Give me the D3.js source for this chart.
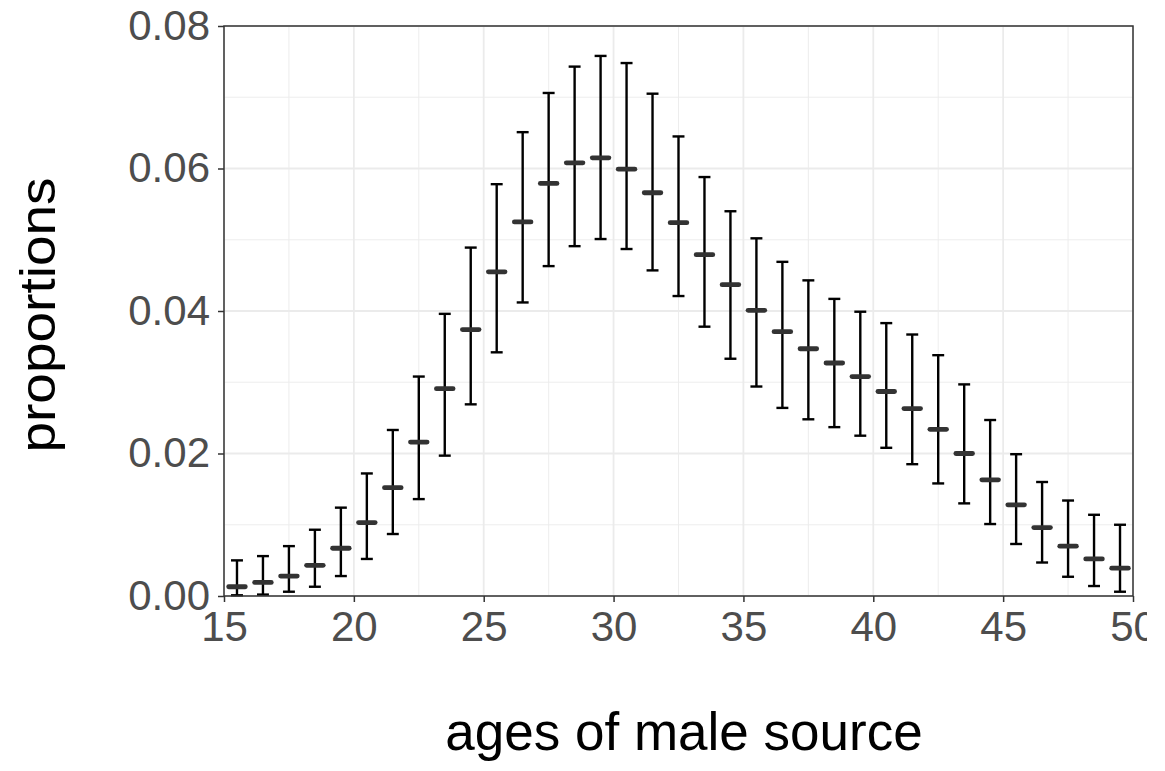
<!DOCTYPE html>
<html>
<head>
<meta charset="utf-8">
<script src="https://cdn.jsdelivr.net/npm/d3@7"></script>
<style>
  body { margin: 0; background: #fff; }
  svg { display: block; font-family: "Liberation Sans", Arial, sans-serif; }
</style>
</head>
<body>
<svg></svg>
<script>
// ages (bin centres) and estimated proportions with their intervals
const ages = [15.5, 16.5, 17.5, 18.5, 19.5, 20.5, 21.5, 22.5, 23.5, 24.5,
  25.5, 26.5, 27.5, 28.5, 29.5, 30.5, 31.5, 32.5, 33.5, 34.5,
  35.5, 36.5, 37.5, 38.5, 39.5, 40.5, 41.5, 42.5, 43.5, 44.5,
  45.5, 46.5, 47.5, 48.5, 49.5];
const means = [0.0013, 0.0019, 0.0028, 0.0043, 0.0067, 0.0103, 0.0152, 0.0216, 0.0291, 0.0374,
  0.0455, 0.0525, 0.0579, 0.0608, 0.0615, 0.0599, 0.0566, 0.0524, 0.0479, 0.0437,
  0.0401, 0.0371, 0.0347, 0.0327, 0.0308, 0.0287, 0.0263, 0.0234, 0.0200, 0.0163,
  0.0128, 0.0096, 0.0070, 0.0052, 0.0039];
const lower = [0.0001, 0.0002, 0.0006, 0.0013, 0.0028, 0.0052, 0.0087, 0.0136, 0.0197, 0.0269,
  0.0342, 0.0412, 0.0463, 0.0491, 0.0501, 0.0487, 0.0457, 0.0421, 0.0378, 0.0333,
  0.0294, 0.0264, 0.0248, 0.0237, 0.0225, 0.0208, 0.0185, 0.0158, 0.0130, 0.0101,
  0.0073, 0.0047, 0.0027, 0.0014, 0.0006];
const upper = [0.0050, 0.0056, 0.0070, 0.0093, 0.0124, 0.0172, 0.0233, 0.0308, 0.0396, 0.0489,
  0.0578, 0.0651, 0.0706, 0.0743, 0.0758, 0.0748, 0.0705, 0.0645, 0.0588, 0.0540,
  0.0502, 0.0469, 0.0443, 0.0417, 0.0399, 0.0383, 0.0367, 0.0338, 0.0297, 0.0247,
  0.0199, 0.0160, 0.0134, 0.0114, 0.0100];

const xTicks = [15, 20, 25, 30, 35, 40, 45, 50];
const xMinor = [17.5, 22.5, 27.5, 32.5, 37.5, 42.5, 47.5];
const yTicks = [0, 0.02, 0.04, 0.06, 0.08];
const yMinor = [0.01, 0.03, 0.05, 0.07];

const width = 1165, height = 771;
const margin = { top: 26, right: 32, bottom: 175, left: 224 };
const innerW = width - margin.left - margin.right;
const innerH = height - margin.top - margin.bottom;

const svg = d3.select("svg")
  .attr("width", width)
  .attr("height", height);

const x = d3.scaleLinear().domain([15, 50]).range([margin.left, margin.left + innerW]);
const y = d3.scaleLinear().domain([0, 0.08]).range([margin.top + innerH, margin.top]);

const data = ages.map((a, i) => ({ age: a, mean: means[i], lo: lower[i], hi: upper[i] }));

// grid lines
const grid = svg.append("g");
grid.selectAll(".xminor").data(xMinor).join("line")
  .attr("x1", d => x(d)).attr("x2", d => x(d))
  .attr("y1", y(0)).attr("y2", y(0.08))
  .attr("stroke", "#EBEBEB").attr("stroke-width", 0.9);
grid.selectAll(".yminor").data(yMinor).join("line")
  .attr("x1", x(15)).attr("x2", x(50))
  .attr("y1", d => y(d)).attr("y2", d => y(d))
  .attr("stroke", "#EBEBEB").attr("stroke-width", 0.9);
grid.selectAll(".xmajor").data(xTicks).join("line")
  .attr("x1", d => x(d)).attr("x2", d => x(d))
  .attr("y1", y(0)).attr("y2", y(0.08))
  .attr("stroke", "#EBEBEB").attr("stroke-width", 1.8);
grid.selectAll(".ymajor").data(yTicks).join("line")
  .attr("x1", x(15)).attr("x2", x(50))
  .attr("y1", d => y(d)).attr("y2", d => y(d))
  .attr("stroke", "#EBEBEB").attr("stroke-width", 1.8);

// error bars
const capHalf = 0.23;
const bars = svg.append("g").attr("stroke", "#000").attr("stroke-width", 2.4);
bars.selectAll(".v").data(data).join("line")
  .attr("x1", d => x(d.age)).attr("x2", d => x(d.age))
  .attr("y1", d => y(d.lo)).attr("y2", d => y(d.hi));
bars.selectAll(".top").data(data).join("line")
  .attr("x1", d => x(d.age - capHalf)).attr("x2", d => x(d.age + capHalf))
  .attr("y1", d => y(d.hi)).attr("y2", d => y(d.hi));
bars.selectAll(".bot").data(data).join("line")
  .attr("x1", d => x(d.age - capHalf)).attr("x2", d => x(d.age + capHalf))
  .attr("y1", d => y(d.lo)).attr("y2", d => y(d.lo));

// point estimates
svg.append("g").selectAll("line").data(data).join("line")
  .attr("x1", d => x(d.age - 0.32)).attr("x2", d => x(d.age + 0.32))
  .attr("y1", d => y(d.mean)).attr("y2", d => y(d.mean))
  .attr("stroke", "#333333").attr("stroke-width", 4.8)
  .attr("stroke-linecap", "round");

// panel border
svg.append("rect")
  .attr("x", x(15)).attr("y", y(0.08))
  .attr("width", x(50) - x(15)).attr("height", y(0) - y(0.08))
  .attr("fill", "none").attr("stroke", "#333333").attr("stroke-width", 1.5);

// axes (x labels are cut off at the right edge, like the original)
svg.append("clipPath").attr("id", "clipx")
  .append("rect").attr("x", 0).attr("y", 0).attr("width", 1147).attr("height", height);

const xAxis = svg.append("g")
  .attr("transform", `translate(0,${y(0)})`)
  .attr("clip-path", "url(#clipx)")
  .call(d3.axisBottom(x).tickValues(xTicks).tickSize(6).tickPadding(9).tickFormat(d3.format("d")));
const yAxis = svg.append("g")
  .attr("transform", `translate(${x(15)},0)`)
  .call(d3.axisLeft(y).tickValues(yTicks).tickSize(6).tickPadding(8).tickFormat(d3.format(".2f")));

[xAxis, yAxis].forEach(g => {
  g.select(".domain").remove();
  g.selectAll(".tick line").attr("stroke", "#333333").attr("stroke-width", 1.5);
  g.selectAll(".tick text")
    .attr("fill", "#4D4D4D")
    .attr("font-size", 42)
    .attr("font-family", "Liberation Sans, Arial, sans-serif");
});

// titles
svg.append("text")
  .attr("x", 684)
  .attr("y", 750)
  .attr("text-anchor", "middle")
  .attr("font-size", 53)
  .attr("fill", "#000")
  .text("ages of male source");

svg.append("text")
  .attr("transform", `translate(55,${(y(0) + y(0.08)) / 2 + 4}) scale(0.9,1) rotate(-90)`)
  .attr("text-anchor", "middle")
  .attr("font-size", 55)
  .attr("fill", "#000")
  .text("proportions");
</script>
</body>
</html>
